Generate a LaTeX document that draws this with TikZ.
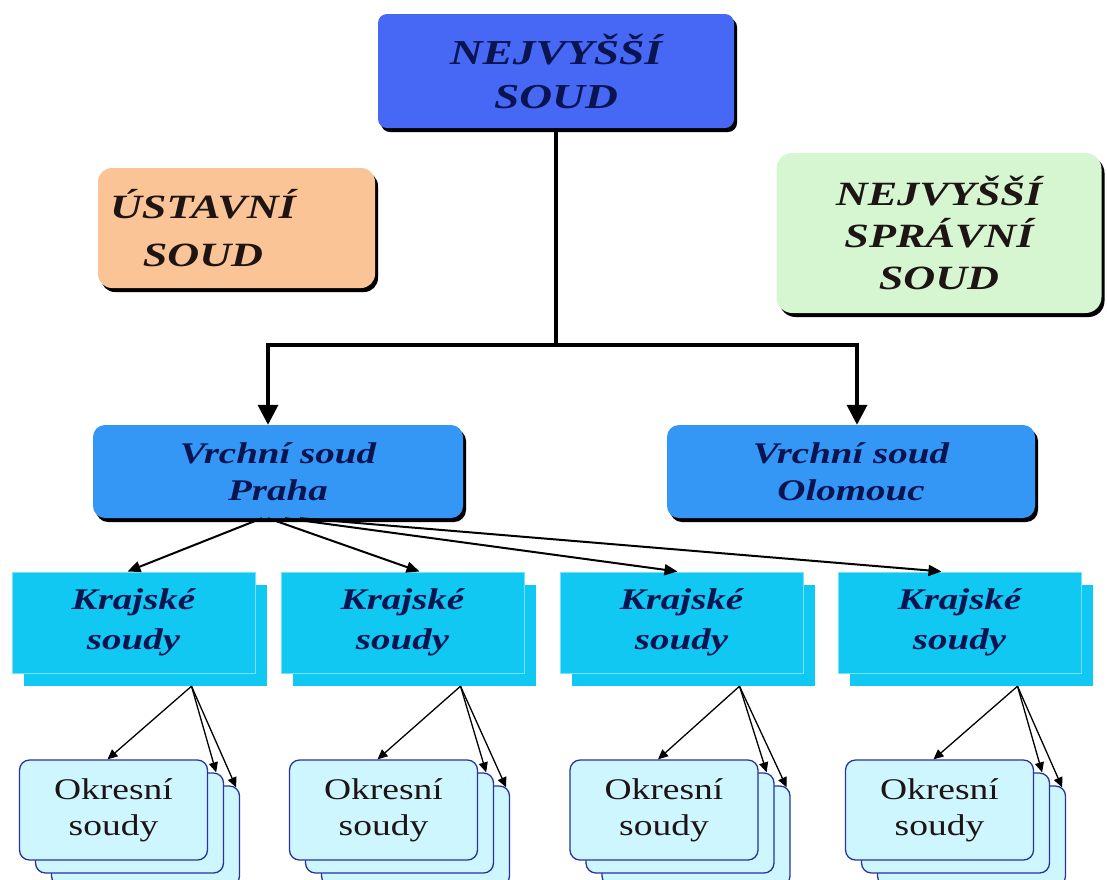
\documentclass[tikz,border=0pt]{standalone}
\usepackage{fontspec}
\setmainfont{Liberation Serif}
\newfontfamily\bif[FakeStretch=1.3]{Liberation Serif}
\newfontfamily\okf[FakeStretch=1.25]{Liberation Serif}
\usetikzlibrary{arrows.meta,shadows}
\definecolor{topblue}{RGB}{70,104,245}
\definecolor{peach}{RGB}{250,196,150}
\definecolor{mint}{RGB}{214,246,210}
\definecolor{vrblue}{RGB}{52,150,245}
\definecolor{kcyan}{RGB}{16,200,242}
\definecolor{klight}{RGB}{120,225,250}
\definecolor{ofill}{RGB}{206,246,255}
\definecolor{oline}{RGB}{40,50,160}
\definecolor{navy}{RGB}{10,20,80}
\definecolor{ink}{RGB}{30,20,20}
\tikzset{
  shad/.style={drop shadow={shadow xshift=3pt,shadow yshift=-4pt,fill=black,opacity=1}},
  boxbase/.style={inner sep=0pt,align=center,rounded corners=9pt},
  topbox/.style={boxbase,shad,fill=topblue,minimum width=356pt,minimum height=114pt,text=navy,
    font=\bif\bfseries\itshape\fontsize{35}{44}\selectfont},
  ustbox/.style={boxbase,shad,fill=peach,minimum width=277pt,minimum height=120pt,rounded corners=14pt},
  capstext/.style={inner sep=0pt,align=center,text=ink,font=\bif\bfseries\itshape\fontsize{34}{48}\selectfont},
  nssbox/.style={boxbase,shad,fill=mint,minimum width=325pt,minimum height=160pt,rounded corners=16pt,text=ink,
    font=\bif\bfseries\itshape\fontsize{34}{42}\selectfont},
  vrbox/.style={boxbase,shad,fill=vrblue,minimum height=93pt,text=navy,rounded corners=12pt,
    font=\bif\bfseries\itshape\fontsize{30}{37}\selectfont},
  kshadow/.style={inner sep=0pt,fill=kcyan,minimum width=243pt,minimum height=101pt},
  kbox/.style={inner sep=0pt,align=center,fill=kcyan,draw=klight,line width=1pt,minimum width=243pt,minimum height=101pt,
    text=navy,font=\bif\bfseries\itshape\fontsize{30}{40}\selectfont},
  obox/.style={inner sep=0pt,align=center,fill=ofill,draw=oline,line width=1.3pt,rounded corners=10pt,
    minimum width=188pt,minimum height=100pt,text=ink,font=\okf\fontsize{30}{36}\selectfont},
  bigline/.style={line width=3.5pt},
  bigarr/.style={line width=3.5pt,-{Triangle[length=20pt,width=20pt]}},
  marr/.style={line width=2pt,-{Triangle[length=13pt,width=11pt]}},
  sarr/.style={line width=1.3pt,-{Triangle[length=10pt,width=9pt]}}
}
\begin{document}
\begin{tikzpicture}[x=1pt,y=-1pt]
\useasboundingbox[fill=white] (0,0) rectangle (1107,879);
% top level
\node[topbox] (top) at (556,71) {NEJVYŠŠÍ\\SOUD};
\node[ustbox] (ust) at (236.5,228) {};
\node[capstext] (usttext) at (203,228) {ÚSTAVNÍ\\SOUD};
\node[nssbox] (nss) at (939,233) {NEJVYŠŠÍ\\SPRÁVNÍ\\SOUD};
% high courts
\node[vrbox,minimum width=370pt] (praha) at (278,471.5) {Vrchní soud\\Praha};
\node[vrbox,minimum width=368pt] (olom) at (851,471.5) {Vrchní soud\\Olomouc};
\coordinate (j) at (556,345);
\draw[bigline] (top.south) -- (j);
\draw[bigarr] (j) -| ([xshift=-10pt]praha.north);
\draw[bigarr] (j) -| ([xshift=6pt]olom.north);
% regional courts
\foreach \i/\x in {1/133.5,2/402.5,3/681.5,4/959.5}{
  \node[kshadow] (ks\i) at (\x+12,635.5) {};
  \node[kbox] (k\i) at (\x,622.5) {Krajské\\soudy};
}
\draw[marr] ([xshift=-16pt]praha.south) -- ([xshift=-6pt]k1.north);
\draw[marr] ([xshift=-10pt]praha.south) -- ([xshift=17pt]k2.north);
\draw[marr] ([xshift=7pt]praha.south) -- ([xshift=-4pt]k3.north);
\draw[marr] ([xshift=22pt]praha.south) -- ([xshift=-18pt]k4.north);
% district courts
\foreach \i/\x in {1/113.5,2/383.5,3/664,4/939.5}{
  \node[obox] (ot\i) at (\x+32,836) {};
  \node[obox] (os\i) at (\x+16,823) {};
  \node[obox] (of\i) at (\x,810) {Okresní\\soudy};
  \coordinate (src\i) at ([xshift=46pt]ks\i.south);
  \draw[sarr] (src\i) -- ([xshift=-6pt]of\i.north);
  \draw[sarr] (src\i) -- ([xshift=-8pt]os\i.north east);
  \draw[sarr] (src\i) -- ([xshift=-4pt,yshift=-2pt]ot\i.north east);
}
\end{tikzpicture}
\end{document}
